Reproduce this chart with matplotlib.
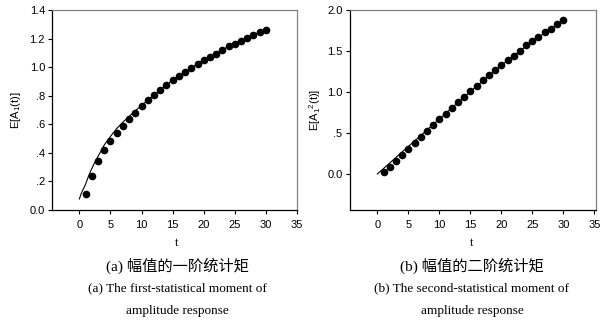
import matplotlib
matplotlib.use("Agg")
import matplotlib.pyplot as plt
from matplotlib.ticker import FixedLocator, FixedFormatter

# ---- data ----
t_pts = list(range(1, 31))
m1_pts = [0.11, 0.238, 0.34, 0.418, 0.48, 0.541, 0.59, 0.637, 0.679, 0.726,
          0.768, 0.805, 0.842, 0.875, 0.908, 0.94, 0.968, 0.996, 1.024, 1.048,
          1.071, 1.094, 1.12, 1.146, 1.164, 1.185, 1.206, 1.227, 1.246, 1.262]
m1_curve_t = [0, 0.25, 0.5, 1, 1.5, 2, 2.5, 3, 4, 5, 6, 7, 8, 9, 10, 12, 14, 16,
              18, 20, 22, 24, 26, 28, 30]
m1_curve_y = [0.077, 0.11, 0.135, 0.18, 0.24, 0.29, 0.335, 0.375, 0.455, 0.515,
              0.57, 0.615, 0.655, 0.695, 0.732, 0.805, 0.875, 0.94, 0.996, 1.048,
              1.094, 1.146, 1.185, 1.227, 1.262]

m2_pts = [0.024, 0.081, 0.154, 0.228, 0.305, 0.374, 0.451, 0.524, 0.593, 0.667,
          0.732, 0.80, 0.874, 0.939, 1.016, 1.077, 1.142, 1.207, 1.268, 1.329,
          1.39, 1.443, 1.504, 1.569, 1.618, 1.675, 1.732, 1.772, 1.825, 1.874]
m2_line_t = [0, 5, 10, 15, 20, 25, 30]
m2_line_y = [0.0, 0.335, 0.67, 1.005, 1.325, 1.615, 1.874]

x_ticks = [0, 5, 10, 15, 20, 25, 30, 35]
y1_ticks = [0.0, 0.2, 0.4, 0.6, 0.8, 1.0, 1.2, 1.4]
y1_labels = ["0.0", ".2", ".4", ".6", ".8", "1.0", "1.2", "1.4"]
y2_ticks = [0.0, 0.5, 1.0, 1.5, 2.0]
y2_labels = ["0.0", ".5", "1.0", "1.5", "2.0"]

ylabel1 = r"E[A$_1$(t)]"
ylabel2 = r"E[A$_1$$^2$(t)]"
xlabel = "t"
cap_a = ["(a) 幅值的一阶统计矩", "(a) The first-statistical moment of", "amplitude response"]
cap_b = ["(b) 幅值的二阶统计矩", "(b) The second-statistical moment of", "amplitude response"]

# ---- style ----
plt.rcParams['font.family'] = ['Liberation Sans', 'DejaVu Sans']
plt.rcParams['mathtext.fontset'] = 'custom'
plt.rcParams['mathtext.rm'] = 'Liberation Sans'
plt.rcParams['mathtext.it'] = 'Liberation Sans'

W, H = 611, 322
fig = plt.figure(figsize=(W / 100, H / 100), dpi=100)

def px_axes(x0, y0, x1, y1):
    return fig.add_axes([x0 / W, 1 - y1 / H, (x1 - x0) / W, (y1 - y0) / H])

ax1 = px_axes(52, 10, 297, 210)
ax2 = px_axes(349.5, 10, 595.5, 210)

def style(ax):
    for s in ['left', 'bottom']:
        ax.spines[s].set_color('black')
        ax.spines[s].set_linewidth(0.9)
    for s in ['top', 'right']:
        ax.spines[s].set_color('#808080')
        ax.spines[s].set_linewidth(0.9)
    ax.tick_params(direction='out', length=3, width=0.8, labelsize=8, pad=2,
                   top=False, right=False)
    ax.xaxis.set_major_locator(FixedLocator(x_ticks))
    ax.tick_params(axis='x', pad=4)

# left panel
ax1.plot(m1_curve_t, m1_curve_y, color='black', lw=0.8)
ax1.plot(t_pts, m1_pts, 'o', color='black', ms=4.5)
ax1.set_xlim(-4.4, 35)
ax1.set_ylim(0, 1.4)
style(ax1)
ax1.yaxis.set_major_locator(FixedLocator(y1_ticks))
ax1.yaxis.set_major_formatter(FixedFormatter(y1_labels))
ax1.set_ylabel(ylabel1, fontsize=8, labelpad=5)

# right panel
ax2.plot(m2_line_t, m2_line_y, color='black', lw=0.8)
ax2.plot(t_pts, m2_pts, 'o', color='black', ms=4.5)
ax2.set_xlim(-4.5, 35.2)
ax2.set_ylim(-0.44, 2.0)
style(ax2)
ax2.yaxis.set_major_locator(FixedLocator(y2_ticks))
ax2.yaxis.set_major_formatter(FixedFormatter(y2_labels))
ax2.set_ylabel(ylabel2, fontsize=8, labelpad=3)

serif = ['Liberation Serif', 'Noto Sans CJK SC']
for cx, caps in [(177, cap_a), (472, cap_b)]:
    fig.text(cx / W, 1 - 243 / H, xlabel, ha='center', va='center',
             fontsize=9, family=serif)
    sizes = [11, 9.5, 9.5]
    for i, line in enumerate(caps):
        fig.text(cx / W, 1 - (266 + 22.5 * i) / H, line, ha='center',
                 va='center', fontsize=sizes[i], family=serif)

fig.savefig('out.png', dpi=100)
